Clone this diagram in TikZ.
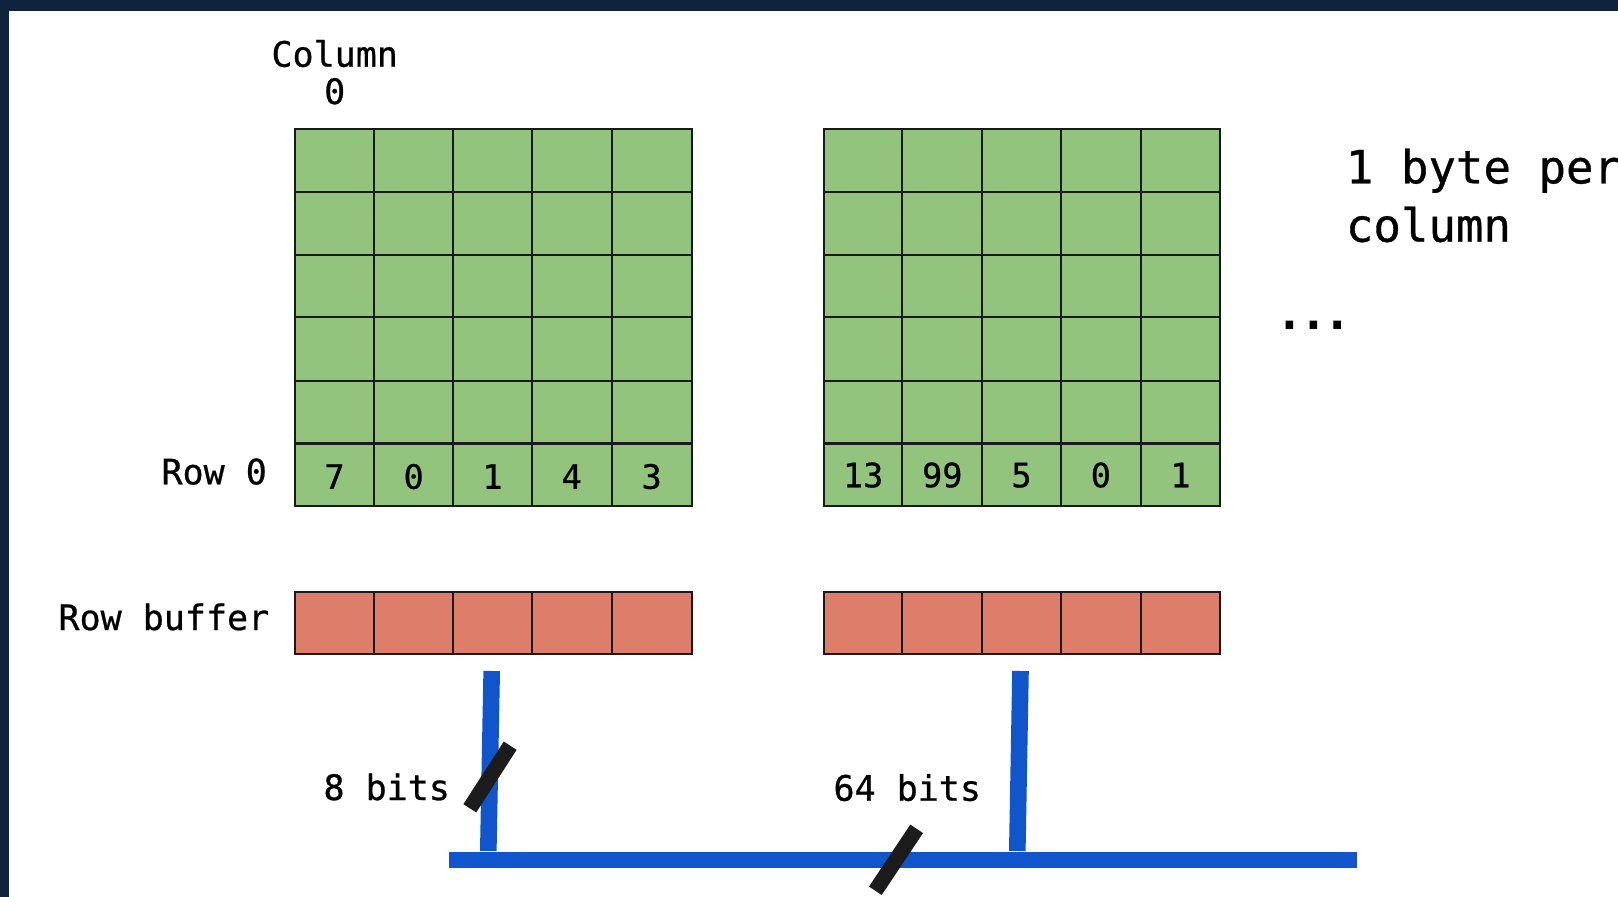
\documentclass[tikz,border=0pt]{standalone}
\usepackage{fontspec}
\setmonofont[FakeBold=0.7]{DejaVu Sans Mono}
\newfontfamily\dotsfont[FakeBold=2.5]{DejaVu Sans Mono Bold}
\definecolor{navy}{HTML}{10233D}
\definecolor{cellgreen}{HTML}{93C47D}
\definecolor{cellred}{HTML}{DD7E6B}
\definecolor{busblue}{HTML}{1155CC}
\definecolor{slashblack}{HTML}{1C1C1C}
\definecolor{gridline}{HTML}{1A1A1A}
\tikzset{
  cellbox/.style={draw=gridline, line width=2.2pt, inner sep=0pt, outer sep=0pt},
  gcell/.style={cellbox, fill=cellgreen},
  rcell/.style={cellbox, fill=cellred},
  lbl/.style={inner sep=0pt, outer sep=0pt, font=\ttfamily\fontsize{35}{40}\selectfont},
  numlbl/.style={inner sep=0pt, outer sep=0pt, anchor=base, font=\ttfamily\fontsize{33.5}{38}\selectfont},
  buswire/.style={draw=busblue, line width=16.6pt, line cap=butt},
  slashbar/.style={fill=slashblack, inner sep=0pt, outer sep=0pt, minimum width=74.5pt, minimum height=15.3pt}
}
\begin{document}
\begin{tikzpicture}[x=1pt,y=-1pt]
\useasboundingbox (0,0) rectangle (1618,897);
\fill[navy] (0,0) rectangle (1618,897);
\fill[white] (9,10.7) rectangle (1618,897);

% grid 1 (left bank)
\foreach \c/\xa/\xb in {1/295/374,2/374/453.3,3/453.3/531.7,4/531.7/611.7,5/611.7/691.7}{
  \foreach \r/\ya/\yb in {1/129/192,2/192/255,3/255/317,4/317/381,5/381/443.5,6/443.5/506}{
    \node[gcell, minimum width={\xb-\xa}, minimum height={\yb-\ya}] (a-\r-\c) at ({(\xa+\xb)/2},{(\ya+\yb)/2}) {};
  }
  \node[rcell, minimum width={\xb-\xa}, minimum height=62] (ra-\c) at ({(\xa+\xb)/2},623) {};
}
% grid 2 (right bank)
\foreach \c/\xa/\xb in {1/824/902.3,2/902.3/982.3,3/982.3/1060.7,4/1060.7/1141,5/1141/1220}{
  \foreach \r/\ya/\yb in {1/129/192,2/192/255,3/255/317,4/317/381,5/381/443.5,6/443.5/506}{
    \node[gcell, minimum width={\xb-\xa}, minimum height={\yb-\ya}] (b-\r-\c) at ({(\xa+\xb)/2},{(\ya+\yb)/2}) {};
  }
  \node[rcell, minimum width={\xb-\xa}, minimum height=62] (rb-\c) at ({(\xa+\xb)/2},623) {};
}

% row 0 values
\foreach \c/\v in {1/7,2/0,3/1,4/4,5/3}{
  \node[numlbl] (na-\c) at ([yshift=-14pt]a-6-\c.center) {\v};
}
\foreach \c/\v in {1/13,2/99,3/5,4/0,5/1}{
  \node[numlbl] (nb-\c) at ([yshift=-12.5pt]b-6-\c.center) {\v};
}

% labels (base anchor of a multi-line node = last line's baseline)
\node[lbl, anchor=base, align=center] (colhdr) at (334.7,104) {Column\\[-2.7pt]0};
\node[lbl, anchor=base west] (row0) at (161.5,484.3) {Row 0};
\node[lbl, anchor=base west] (rowbuf) at (58.5,630) {Row buffer};
\node[lbl, anchor=base west] (bits8) at (323.5,800) {8 bits};
\node[lbl, anchor=base west] (bits64) at (833.5,800.7) {64 bits};
\node[inner sep=0pt, anchor=base west, align=left, font=\ttfamily\fontsize{45.7}{58.4}\selectfont] (bytecol) at (1345.7,241.7) {1 byte per\\column};
\node[inner sep=0pt, anchor=base, font=\dotsfont\fontsize{39.6}{46}\selectfont] (dots) at (1313.3,328.3) {...};

% wires
\coordinate (w1top) at (491.7,671);
\coordinate (w1bot) at (488.3,851);
\coordinate (w2top) at (1020.5,671);
\coordinate (w2bot) at (1017.3,851);
\coordinate (busL) at (449.3,860);
\coordinate (busR) at (1356.7,860);
\draw[buswire] (w1top) -- (w1bot);
\draw[buswire] (w2top) -- (w2bot);
\draw[buswire] (busL) -- (busR);

% width slashes
\node[slashbar, rotate=57.2] (slash8) at (490,777) {};
\node[slashbar, rotate=56.3] (slash64) at (896,859.8) {};
\end{tikzpicture}
\end{document}
